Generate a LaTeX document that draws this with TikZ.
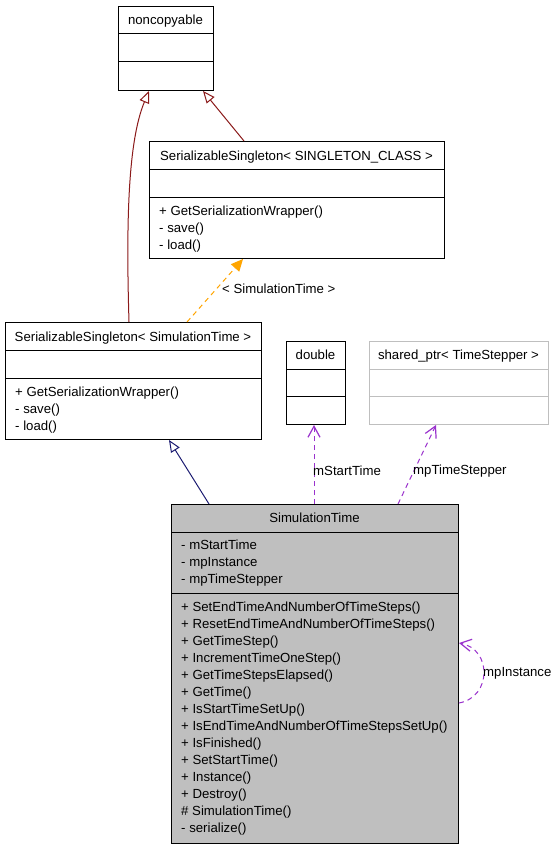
\documentclass[tikz,border=0pt]{standalone}
\usepackage{fontspec}
\setmainfont{Liberation Sans}
\usetikzlibrary{arrows.meta,calc}
\definecolor{firebrick}{HTML}{8B1A1A}
\definecolor{midblue}{HTML}{191970}
\definecolor{orchid}{HTML}{9A32CD}
\definecolor{tmplorange}{HTML}{FFA500}
\definecolor{grayfill}{HTML}{BFBFBF}
\begin{document}
\begin{tikzpicture}[x=1pt,y=-1pt,
  every node/.style={font=\fontsize{13.2}{17}\selectfont, inner sep=0pt},
  classbox/.style={draw=black, line width=1pt, anchor=north west, inner sep=0pt},
  divider/.style={draw=black, line width=1pt},
  title/.style={anchor=base},
  member/.style={anchor=base west},
  elabel/.style={anchor=west},
  inhpriv/.style={draw=firebrick, line width=1pt, -{Triangle[length=12pt,width=10pt,fill=white]}},
  inhpub/.style={draw=midblue, line width=1pt, -{Triangle[length=12pt,width=10pt,fill=white]}},
  tmpl/.style={draw=tmplorange, line width=1pt, dash pattern=on 5pt off 4pt, -{Triangle[length=12pt,width=11pt,fill=tmplorange]}},
  usage/.style={draw=orchid, line width=1pt, dash pattern=on 5pt off 4pt, -{Straight Barb[length=11pt,width=12pt,line width=1.2pt]}}
]
\useasboundingbox[fill=white] (0,0) rectangle (556,848);

% noncopyable
\node[classbox, minimum width=95pt, minimum height=84pt] (nc) at (118,6) {};
\draw[divider] (118,34) -- (213,34);
\draw[divider] (118,62) -- (213,62);
\node[title] (nc-t) at (165.5,25) {noncopyable};

% SerializableSingleton< SINGLETON_CLASS >
\node[classbox, minimum width=295pt, minimum height=117pt] (ss) at (149,141) {};
\draw[divider] (149,169) -- (444,169);
\draw[divider] (149,197) -- (444,197);
\node[title] (ss-t) at (296.5,160) {SerializableSingleton< SINGLETON\_CLASS >};
\node[member] (ss-m1) at (159,215) {+ GetSerializationWrapper()};
\node[member] (ss-m2) at (159,232) {- save()};
\node[member] (ss-m3) at (159,249) {- load()};

% SerializableSingleton< SimulationTime >
\node[classbox, minimum width=256pt, minimum height=117pt] (ssst) at (5,322) {};
\draw[divider] (5,350) -- (261,350);
\draw[divider] (5,378) -- (261,378);
\node[title] (ssst-t) at (133,341) {SerializableSingleton< SimulationTime >};
\node[member] (ssst-m1) at (15,396) {+ GetSerializationWrapper()};
\node[member] (ssst-m2) at (15,413) {- save()};
\node[member] (ssst-m3) at (15,430) {- load()};

% double
\node[classbox, minimum width=59pt, minimum height=83pt] (dbl) at (286,341) {};
\draw[divider] (286,369) -- (345,369);
\draw[divider] (286,396) -- (345,396);
\node[title] (dbl-t) at (315.5,359) {double};

% shared_ptr< TimeStepper >
\node[classbox, draw=grayfill, minimum width=179pt, minimum height=83pt] (sp) at (369,341) {};
\draw[divider, draw=grayfill] (369,369) -- (548,369);
\draw[divider, draw=grayfill] (369,396) -- (548,396);
\node[title] (sp-t) at (458.5,359) {shared\_ptr< TimeStepper >};

% SimulationTime
\node[classbox, fill=grayfill, minimum width=287pt, minimum height=339pt] (st) at (171,504) {};
\draw[divider] (171,532) -- (458,532);
\draw[divider] (171,593) -- (458,593);
\node[title] (st-t) at (314.5,522) {SimulationTime};
\foreach \txt [count=\i] in {- mStartTime, - mpInstance, - mpTimeStepper}
  \node[member] (st-a\i) at (181,{549+17*(\i-1)}) {\txt};
\foreach \txt [count=\i] in {+ SetEndTimeAndNumberOfTimeSteps(), + ResetEndTimeAndNumberOfTimeSteps(), + GetTimeStep(), + IncrementTimeOneStep(), + GetTimeStepsElapsed(), + GetTime(), + IsStartTimeSetUp(), + IsEndTimeAndNumberOfTimeStepsSetUp(), + IsFinished(), + SetStartTime(), + Instance(), + Destroy(), \# SimulationTime(), - serialize()}
  \node[member] (st-m\i) at (181,{611+17*(\i-1)}) {\txt};

% edges
\draw[inhpriv] ($(ssst.north west)+(124,0)$) .. controls ($(ssst.north west)+(121,-100)$) and ($(nc.south west)+(10,50)$) .. ($(nc.south west)+(31,0)$);
\draw[inhpriv] ($(ss.north west)+(95,0)$) -- ($(nc.south east)+(-11,0)$);
\draw[tmpl] ($(ssst.north west)+(182,0)$) -- ($(ss.south west)+(94,0)$);
\node[elabel] (lbl-tmpl) at (222,289) {< SimulationTime >};
\draw[inhpub] ($(st.north west)+(38,0)$) -- ($(ssst.south west)+(164,0)$);
\draw[usage] ($(st.north west)+(143,0)$) -- ($(dbl.south west)+(28,0)$);
\node[elabel] (lbl-mst) at (313,471) {mStartTime};
\draw[usage] ($(st.north west)+(227,0)$) -- ($(sp.south west)+(67,0)$);
\node[elabel] (lbl-mpts) at (413,471) {mpTimeStepper};
\draw[usage] ($(st.north east)+(0,199)$) .. controls ($(st.north east)+(33,193)$) and ($(st.north east)+(33,145)$) .. ($(st.north east)+(0,139)$);
\node[elabel] (lbl-mpi) at (483,673) {mpInstance};
\end{tikzpicture}
\end{document}
